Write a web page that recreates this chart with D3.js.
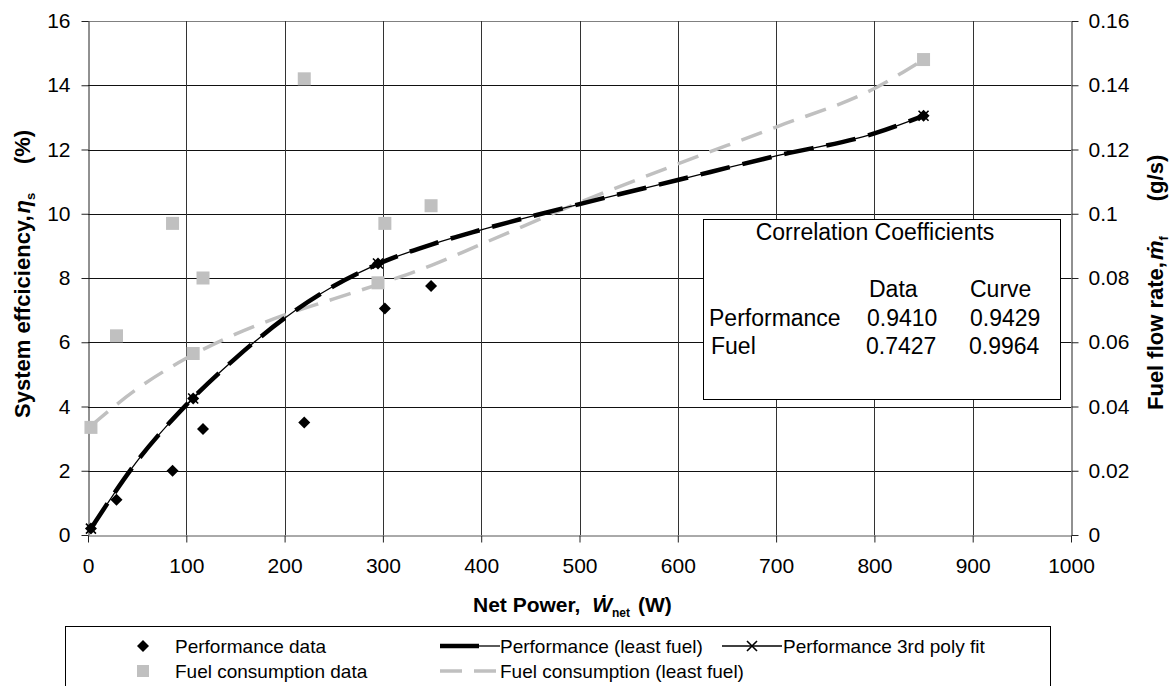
<!DOCTYPE html>
<html>
<head>
<meta charset="utf-8">
<script src="https://cdn.jsdelivr.net/npm/d3@7/dist/d3.min.js"></script>
<style>
body { margin: 0; background: #fff; }
svg { font-family: "Liberation Sans", Arial, sans-serif; }
</style>
</head>
<body>
<svg id="chart" width="1173" height="686"></svg>
<script>
// axis ticks
const powerTicks = [0, 100, 200, 300, 400, 500, 600, 700, 800, 900, 1000];
const effTicks = [0, 2, 4, 6, 8, 10, 12, 14, 16];
const fuelTicks = [0, 0.02, 0.04, 0.06, 0.08, 0.1, 0.12, 0.14, 0.16];

// measured data
const perfPower = [3, 29, 86, 107, 117, 220, 295, 302, 349, 850];
const perfEff = [0.2, 1.1, 2.0, 4.25, 3.3, 3.5, 8.45, 7.05, 7.75, 13.05];
const fuelPower = [3, 29, 86, 107, 117, 220, 295, 302, 349, 850];
const fuelRate = [0.0335, 0.062, 0.097, 0.0565, 0.080, 0.142, 0.0785, 0.097, 0.1025, 0.148];

// curves
const curvePower = [3, 50, 100, 150, 200, 250, 300, 350, 400, 500, 600, 700, 800, 850];
const perfCurve = [0.2, 2.3, 4.05, 5.5, 6.75, 7.75, 8.5, 9.05, 9.5, 10.3, 11.05, 11.8, 12.5, 13.05];
const fuelCurve = [0.034, 0.0455, 0.055, 0.0625, 0.0685, 0.0735, 0.0785, 0.084, 0.0905, 0.1035, 0.1155, 0.127, 0.139, 0.148];
const polyPower = [3, 107, 295, 850];
const polyEff = [0.2, 4.25, 8.45, 13.05];

// correlation table
const corrRows = ["Performance", "Fuel"];
const corrData = ["0.9410", "0.7427"];
const corrCurve = ["0.9429", "0.9964"];

const plot = { left: 88, right: 1071, top: 21, bottom: 535 };

const x = d3.scaleLinear().domain([0, 1000]).range([plot.left, plot.right]);
const yEff = d3.scaleLinear().domain([0, 16]).range([plot.bottom, plot.top]);
const yFuel = d3.scaleLinear().domain([0, 0.16]).range([plot.bottom, plot.top]);

const svg = d3.select("#chart");

//gridlines
svg.append("g").selectAll("line")
    .data(effTicks.slice(1))
    .enter().append("line")
    .attr("x1", plot.left).attr("x2", plot.right)
    .attr("y1", d => Math.round(yEff(d)) + 0.5)
    .attr("y2", d => Math.round(yEff(d)) + 0.5)
    .attr("stroke", d => d === 16 ? "#808080" : "#111");

svg.append("g").selectAll("line")
    .data(powerTicks.slice(1, -1))
    .enter().append("line")
    .attr("y1", plot.top).attr("y2", plot.bottom)
    .attr("x1", d => Math.round(x(d)) + 0.5)
    .attr("x2", d => Math.round(x(d)) + 0.5)
    .attr("stroke", "#333");

//axes
const fmtFuel = d => d === 0 ? "0" : String(+d.toFixed(2));

const axisL = svg.append("g")
    .attr("transform", `translate(${plot.left + 0.5},0)`)
    .call(d3.axisLeft(yEff).tickValues(effTicks).tickSize(7).tickPadding(11).tickSizeOuter(0));
const axisR = svg.append("g")
    .attr("transform", `translate(${plot.right + 0.5},0)`)
    .call(d3.axisRight(yFuel).tickValues(fuelTicks).tickFormat(fmtFuel).tickSize(7).tickPadding(10).tickSizeOuter(0));
const axisB = svg.append("g")
    .attr("transform", `translate(0,${plot.bottom + 0.5})`)
    .call(d3.axisBottom(x).tickValues(powerTicks).tickFormat(d => String(d)).tickSize(7).tickPadding(16).tickSizeOuter(0));

[axisL, axisR, axisB].forEach(a => {
    a.selectAll("text").attr("font-size", 21).attr("fill", "#000")
        .attr("font-family", "Liberation Sans, Arial, sans-serif");
    a.selectAll("line").attr("stroke", "#222");
    a.select(".domain").attr("stroke", "#222");
});
axisB.select(".domain").attr("stroke", "#555");

//correlation box
const box = svg.append("g");
box.append("rect")
    .attr("x", 703.5).attr("y", 219.5).attr("width", 357).attr("height", 180)
    .attr("fill", "#fff").attr("stroke", "#000");
box.append("text").attr("x", 875).attr("y", 240).attr("text-anchor", "middle")
    .attr("font-size", 23).text("Correlation Coefficients");
box.append("text").attr("x", 869).attr("y", 297).attr("font-size", 23).text("Data");
box.append("text").attr("x", 970).attr("y", 297).attr("font-size", 23).text("Curve");
corrRows.forEach((r, i) => {
    const yy = 326 + i * 28;
    box.append("text").attr("x", i === 0 ? 709 : 711).attr("y", yy).attr("font-size", 23).text(r);
    box.append("text").attr("x", i === 0 ? 867 : 866).attr("y", yy).attr("font-size", 23).text(corrData[i]);
    box.append("text").attr("x", i === 0 ? 970 : 969).attr("y", yy).attr("font-size", 23).text(corrCurve[i]);
});

//curves
const perfLine = d3.line()
    .x((d, i) => x(curvePower[i]))
    .y(d => yEff(d))
    .curve(d3.curveMonotoneX);
const fuelLine = d3.line()
    .x((d, i) => x(curvePower[i]))
    .y(d => yFuel(d))
    .curve(d3.curveMonotoneX);

svg.append("path").datum(fuelCurve)
    .attr("d", fuelLine).attr("fill", "none")
    .attr("stroke", "#c0c0c0").attr("stroke-width", 3.5).attr("stroke-dasharray", "22,12");

svg.append("path").datum(perfCurve)
    .attr("d", perfLine).attr("fill", "none")
    .attr("stroke", "#000").attr("stroke-width", 1.3);

svg.append("path").datum(perfCurve)
    .attr("d", perfLine).attr("fill", "none")
    .attr("stroke", "#000").attr("stroke-width", 4.5).attr("stroke-dasharray", "30,13");

//markers
const diamond = "M0,-6L6,0L0,6L-6,0Z";
const cross = "M-5,-5L5,5M-5,5L5,-5";

svg.append("g").selectAll("rect")
    .data(fuelRate)
    .enter().append("rect")
    .attr("x", (d, i) => x(fuelPower[i]) - 6.5)
    .attr("y", d => yFuel(d) - 6.5)
    .attr("width", 13).attr("height", 13)
    .attr("fill", "#c0c0c0");

svg.append("g").selectAll("path")
    .data(perfEff)
    .enter().append("path")
    .attr("d", diamond)
    .attr("transform", (d, i) => `translate(${x(perfPower[i])},${yEff(d)})`)
    .attr("fill", "#000");

svg.append("g").selectAll("path")
    .data(polyEff)
    .enter().append("path")
    .attr("d", cross)
    .attr("transform", (d, i) => `translate(${x(polyPower[i])},${yEff(d)})`)
    .attr("stroke", "#000").attr("stroke-width", 1.6).attr("fill", "none");

//axis titles
const titleL = svg.append("text")
    .attr("transform", "translate(30,418) rotate(-90)")
    .attr("font-size", 22).attr("font-weight", "bold");
titleL.append("tspan").text("System effciciency,");
titleL.append("tspan").attr("font-style", "italic").attr("dx", 2).text("η");
titleL.append("tspan").attr("font-size", 13).attr("dy", 5).text("s");
svg.append("text")
    .attr("transform", "translate(30,147) rotate(-90)")
    .attr("text-anchor", "middle").attr("font-size", 22).attr("font-weight", "bold")
    .text("(%)");

const titleR = svg.append("text")
    .attr("transform", "translate(1163,410) rotate(-90)")
    .attr("font-size", 22).attr("font-weight", "bold");
titleR.append("tspan").text("Fuel flow rate,");
titleR.append("tspan").attr("font-style", "italic").attr("dx", 2).text("ṁ");
titleR.append("tspan").attr("font-size", 13).attr("dy", 5).text("f");
svg.append("text")
    .attr("transform", "translate(1163,178) rotate(-90)")
    .attr("text-anchor", "middle").attr("font-size", 22).attr("font-weight", "bold")
    .text("(g/s)");

const titleB = svg.append("text")
    .attr("x", 473).attr("y", 612)
    .attr("font-size", 21).attr("font-weight", "bold");
titleB.append("tspan").text("Net Power, ");
titleB.append("tspan").attr("font-style", "italic").attr("dx", 6).text("Ẇ");
titleB.append("tspan").attr("font-size", 12).attr("dy", 5).text("net");
titleB.append("tspan").attr("dy", -5).attr("dx", 8).text("(W)");

//legend
const legend = svg.append("g");
legend.append("rect")
    .attr("x", 65.5).attr("y", 626.5).attr("width", 985).attr("height", 80)
    .attr("fill", "#fff").attr("stroke", "#000");

const row1 = 646, row2 = 671;
legend.append("path").attr("d", diamond)
    .attr("transform", `translate(143,${row1})`).attr("fill", "#000");
legend.append("text").attr("x", 175).attr("y", row1 + 7).attr("font-size", 19).text("Performance data");

legend.append("line").attr("x1", 440).attr("x2", 479).attr("y1", row1).attr("y2", row1)
    .attr("stroke", "#000").attr("stroke-width", 4.5);
legend.append("line").attr("x1", 479).attr("x2", 500).attr("y1", row1).attr("y2", row1)
    .attr("stroke", "#000").attr("stroke-width", 1.3);
legend.append("text").attr("x", 500).attr("y", row1 + 7).attr("font-size", 19).text("Performance (least fuel)");

legend.append("line").attr("x1", 722).attr("x2", 782).attr("y1", row1).attr("y2", row1)
    .attr("stroke", "#000").attr("stroke-width", 1.3);
legend.append("path").attr("d", cross)
    .attr("transform", `translate(752,${row1})`)
    .attr("stroke", "#000").attr("stroke-width", 1.6).attr("fill", "none");
legend.append("text").attr("x", 783).attr("y", row1 + 7).attr("font-size", 19).text("Performance 3rd poly fit");

legend.append("rect").attr("x", 137).attr("y", row2 - 6).attr("width", 12).attr("height", 12)
    .attr("fill", "#c0c0c0");
legend.append("text").attr("x", 175).attr("y", row2 + 7).attr("font-size", 19).text("Fuel consumption data");

legend.append("line").attr("x1", 440).attr("x2", 500).attr("y1", row2).attr("y2", row2)
    .attr("stroke", "#c0c0c0").attr("stroke-width", 3.5).attr("stroke-dasharray", "22,12");
legend.append("text").attr("x", 500).attr("y", row2 + 7).attr("font-size", 19).text("Fuel consumption (least fuel)");
</script>
</body>
</html>
